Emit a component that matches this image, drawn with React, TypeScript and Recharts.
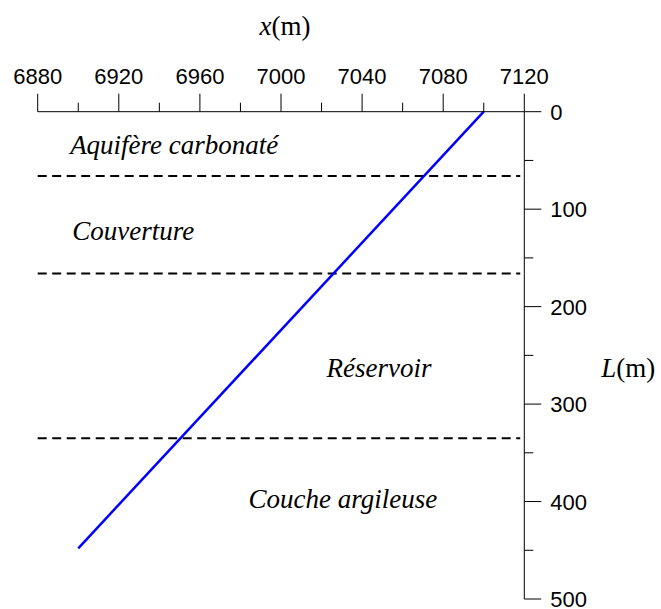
import React from "react";
import {
  LineChart,
  Line,
  XAxis,
  YAxis,
  ReferenceLine,
  ReferenceDot,
} from "recharts";

// axe x (m), en haut
const xTicks = [6880, 6900, 6920, 6940, 6960, 6980, 7000, 7020, 7040, 7060, 7080, 7100, 7120];
const xLabeledTicks = [6880, 6920, 6960, 7000, 7040, 7080, 7120];

// axe L (m), à droite, inversé
const yTicks = [0, 50, 100, 150, 200, 250, 300, 350, 400, 450, 500];
const yLabeledTicks = [0, 100, 200, 300, 400, 500];

// trajectoire du puits
const trajectoire = [
  { x: 7100, L: 0 },
  { x: 6900, L: 448 },
];

// limites entre couches (L en m)
const limites = [66, 166, 335];

// noms des couches et point d'ancrage (début du texte, ligne de base)
const couches = ["Aquifère carbonaté", "Couverture", "Réservoir", "Couche argileuse"];
const couchesX = [6896, 6897, 7022.5, 6984];
const couchesL = [43.5, 131.5, 272, 407];

const SANS = "'Liberation Sans', Arial, sans-serif";
const SERIF = "'Liberation Serif', 'Times New Roman', serif";

const XTick = (props: any) => {
  const { x, y, payload } = props;
  const major = xLabeledTicks.includes(payload.value);
  return (
    <g>
      <line x1={x} y1={y} x2={x} y2={y - (major ? 18 : 9)} stroke="#000" strokeWidth={1} />
      {major && (
        <text x={x} y={y - 28} textAnchor="middle" fontFamily={SANS} fontSize={22} fill="#000">
          {payload.value}
        </text>
      )}
    </g>
  );
};

const YTick = (props: any) => {
  const { x, y, payload } = props;
  const major = yLabeledTicks.includes(payload.value);
  return (
    <g>
      <line x1={x} y1={y} x2={x + (major ? 17 : 9)} y2={y} stroke="#000" strokeWidth={1} />
      {major && (
        <text x={x + 26} y={y + 8} textAnchor="start" fontFamily={SANS} fontSize={22} fill="#000">
          {payload.value}
        </text>
      )}
    </g>
  );
};

const XTitle = (props: any) => {
  const vb = props.viewBox || {};
  return (
    <text x={vb.x + vb.width / 2 + 4} y={vb.y + 35} textAnchor="middle" fontFamily={SERIF} fontSize={27} fill="#000">
      <tspan fontStyle="italic">x</tspan>
      <tspan>(m)</tspan>
    </text>
  );
};

const YTitle = (props: any) => {
  const vb = props.viewBox || {};
  return (
    <text x={vb.x + 77} y={vb.y + 265} textAnchor="start" fontFamily={SERIF} fontSize={27} fill="#000">
      <tspan fontStyle="italic">L</tspan>
      <tspan>(m)</tspan>
    </text>
  );
};

export default function App() {
  return (
    <div style={{ position: "absolute", left: 0, top: 0, width: 661, height: 609, background: "#fff" }}>
      <LineChart
        width={661}
        height={609}
        data={trajectoire}
        margin={{ top: 0, right: 0, bottom: 10, left: 37.7 }}
      >
        <XAxis
          xAxisId={0}
          dataKey="x"
          type="number"
          orientation="top"
          domain={[6880, 7120]}
          ticks={xTicks}
          interval={0}
          height={111.7}
          tickSize={0}
          tickMargin={0}
          tickLine={false}
          tick={<XTick />}
          axisLine={{ stroke: "#000", strokeWidth: 1 }}
          label={<XTitle />}
        />
        <YAxis
          yAxisId={0}
          type="number"
          orientation="right"
          reversed
          domain={[0, 500]}
          ticks={yTicks}
          interval={0}
          width={136.7}
          tickSize={0}
          tickMargin={0}
          tickLine={false}
          tick={<YTick />}
          axisLine={{ stroke: "#000", strokeWidth: 1 }}
          label={<YTitle />}
        />
        {limites.map((l) => (
          <ReferenceLine
            key={l}
            segment={[
              { x: 6880, y: l },
              { x: 7118, y: l },
            ]}
            stroke="#000"
            strokeWidth={2}
            strokeDasharray="9 5.5"
          />
        ))}
        {couches.map((nom, i) => (
          <ReferenceDot
            key={nom}
            x={couchesX[i]}
            y={couchesL[i]}
            r={0}
            shape={(p: any) => (
              <text
                x={p.cx}
                y={p.cy}
                textAnchor="start"
                fontFamily={SERIF}
                fontStyle="italic"
                fontSize={27}
                fill="#000"
              >
                {nom}
              </text>
            )}
          />
        ))}
        <Line
          dataKey="L"
          stroke="#0000ff"
          strokeWidth={2.5}
          dot={false}
          type="linear"
          isAnimationActive={false}
        />
      </LineChart>
    </div>
  );
}
